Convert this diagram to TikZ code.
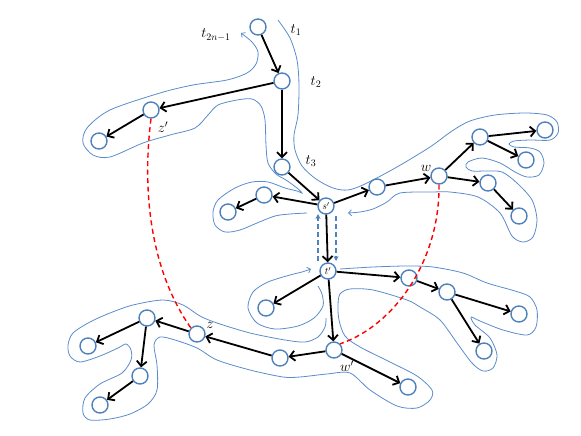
\documentclass[tikz,border=0pt]{standalone}
\usetikzlibrary{arrows.meta}
\definecolor{nodeblue}{HTML}{4F81BD}
\definecolor{tourblue}{HTML}{5A8CCB}
\begin{document}
\begin{tikzpicture}[x=1pt,y=-1pt,
  vtx/.style={circle, draw=nodeblue, line width=1.4pt, fill=white, minimum size=16pt, inner sep=0pt, font=\fontsize{10}{12}\selectfont},
  edge/.style={line width=1.8pt, -{Straight Barb[length=5pt,width=10pt]}},
  tour/.style={draw=tourblue, line width=0.8pt},
  tourarrow/.style={tour, -{Straight Barb[length=3pt,width=6pt]}},
  redcurve/.style={draw=red, line width=1.4pt, dash pattern=on 5pt off 3.5pt},
  bluedash/.style={draw=nodeblue, line width=1.6pt, dash pattern=on 5pt off 3pt, -{Stealth[length=5pt,width=5pt]}},
  lab/.style={font=\fontsize{14}{16}\selectfont, inner sep=0pt}
]
\useasboundingbox (0,0) rectangle (581,436);

% ---- Euler tour contour (light blue) ----
\draw[tourarrow] plot[smooth, tension=0.5] coordinates {(278,20) (290,38) (297,60) (299,85) (298,115) (294,135) (295,150) (302,166) (316,179) (333,188) (348,190) (365,184) (397,167) (430,147) (452,131) (470,121) (495,115) (525,113) (547,115) (557,122) (558,133) (550,140) (530,140) (514,141) (509,144) (514,147) (530,148) (540,152) (544,163) (539,175) (527,177) (515,172) (500,163) (482,158) (468,162) (466,167) (472,171) (487,171) (502,172) (517,183) (532,200) (537,220) (533,237) (523,242) (512,236) (500,213) (478,197) (450,192) (433,192) (400,193) (387,202) (373,209) (360,212) (348,213)};

\draw[tourarrow] plot[smooth, tension=0.5] coordinates {(307,213) (290,214) (275,216) (257,223) (240,230) (225,232) (215,225) (213,212) (218,200) (235,188) (252,182) (268,182) (285,188) (297,191) (302,193) (297,188) (286,180) (276,174) (268,163) (266,145) (265,120) (261,106) (252,99) (237,100) (218,105) (208,115) (195,128) (170,135) (143,143) (110,157) (93,155) (83,143) (87,128) (110,110) (160,93) (193,85) (227,80) (247,73) (256,64) (258,52) (252,42) (241,33)};

\draw[tourarrow] plot[smooth, tension=0.5] coordinates {(318,286) (322,294) (323,306) (314,318) (298,326) (275,329) (257,323) (248,308) (253,292) (268,282) (290,275) (302,272) (311,269)};

\draw[tour] plot[smooth, tension=0.5] coordinates {(340,269) (373,267) (407,266) (433,267) (463,273) (487,283) (515,291) (530,297) (537,310) (536,327) (527,335) (503,330) (480,321) (471,317) (475,325) (490,338) (497,355) (493,368) (483,371) (472,363) (457,343) (440,320) (420,307) (407,300) (373,290) (350,289) (340,294) (338,305) (339,320) (345,336) (360,347) (390,362) (417,376) (432,390) (430,400) (417,408) (397,406) (370,390) (350,373) (327,374) (300,377) (283,377) (250,370) (217,360) (197,348) (175,340) (160,337) (154,345) (157,365) (157,390) (148,404) (130,414) (110,419) (90,420) (83,413) (85,398) (100,384) (122,373) (131,360) (131,350) (126,344) (118,348) (100,356) (80,362) (70,356) (68,345) (73,333) (90,322) (110,313) (133,305) (163,300) (183,305) (200,316) (217,323) (250,333) (285,340) (305,342) (318,337) (325,327) (326,318)};

% ---- vertices ----
\node[vtx] (r) at (258,27) {};
\node[vtx] (a) at (282,81) {};
\node[vtx] (zp) at (151,110) {};
\node[vtx] (zpc) at (99,141) {};
\node[vtx] (b) at (282,167) {};
\node[vtx] (s) at (326,206) {$s'$};
\node[vtx] (sl1) at (264,195) {};
\node[vtx] (sl2) at (228,212) {};
\node[vtx] (sr) at (377,187) {};
\node[vtx] (w) at (439,176) {};
\node[vtx] (wu) at (480,137) {};
\node[vtx] (wua) at (545,130) {};
\node[vtx] (wub) at (526,160) {};
\node[vtx] (wr) at (488,183) {};
\node[vtx] (wrc) at (519,216) {};
\node[vtx] (t) at (328,271) {$t'$};
\node[vtx] (tl) at (266,308) {};
\node[vtx] (tr) at (409,278) {};
\node[vtx] (trb) at (447,292) {};
\node[vtx] (trc) at (519,314) {};
\node[vtx] (trd) at (484,351) {};
\node[vtx] (wp) at (334,350) {};
\node[vtx] (wpc) at (408,387) {};
\node[vtx] (wpl) at (280,358) {};
\node[vtx] (z) at (197,334) {};
\node[vtx] (zq) at (147,318) {};
\node[vtx] (zqa) at (88,346) {};
\node[vtx] (zqb) at (140,376) {};
\node[vtx] (zqc) at (100,405) {};

% ---- tree edges ----
\draw[edge] (r) -- (a);
\draw[edge] (a) -- (zp);
\draw[edge] (zp) -- (zpc);
\draw[edge] (a) -- (b);
\draw[edge] (b) -- (s);
\draw[edge] (s) -- (sl1);
\draw[edge] (sl1) -- (sl2);
\draw[edge] (s) -- (sr);
\draw[edge] (sr) -- (w);
\draw[edge] (w) -- (wu);
\draw[edge] (wu) -- (wua);
\draw[edge] (wu) -- (wub);
\draw[edge] (w) -- (wr);
\draw[edge] (wr) -- (wrc);
\draw[edge] (s) -- (t);
\draw[edge] (t) -- (tl);
\draw[edge] (t) -- (tr);
\draw[edge] (tr) -- (trb);
\draw[edge] (trb) -- (trc);
\draw[edge] (trb) -- (trd);
\draw[edge] (t) -- (wp);
\draw[edge] (wp) -- (wpc);
\draw[edge] (wp) -- (wpl);
\draw[edge] (wpl) -- (z);
\draw[edge] (z) -- (zq);
\draw[edge] (zq) -- (zqa);
\draw[edge] (zq) -- (zqb);
\draw[edge] (zqb) -- (zqc);

% ---- dashed blue arrows between s' and t' ----
\coordinate (upA) at (318,261);
\coordinate (upB) at (318,214);
\coordinate (dnA) at (336,216);
\coordinate (dnB) at (336,261);
\draw[bluedash] (upA) -- (upB);
\draw[bluedash] (dnA) -- (dnB);

% ---- red dashed curves ----
\draw[redcurve] (zp.south) .. controls (142,190) and (150,270) .. (z.north west);
\draw[redcurve] (w.south) .. controls (440,260) and (395,325) .. (wp.north east);

% ---- labels ----
\node[lab] (l1) at (296,30) {$t_1$};
\node[lab] (l2) at (316,82) {$t_2$};
\node[lab] (l3) at (311,161) {$t_3$};
\node[lab] (l4) at (216,35) {$t_{2n-1}$};
\node[lab] (lzp) at (163,127) {$z'$};
\node[lab] (lw) at (426,168) {$w$};
\node[lab] (lwp) at (347,366) {$w'$};
\node[lab] (lz) at (210,325) {$z$};
\end{tikzpicture}
\end{document}
